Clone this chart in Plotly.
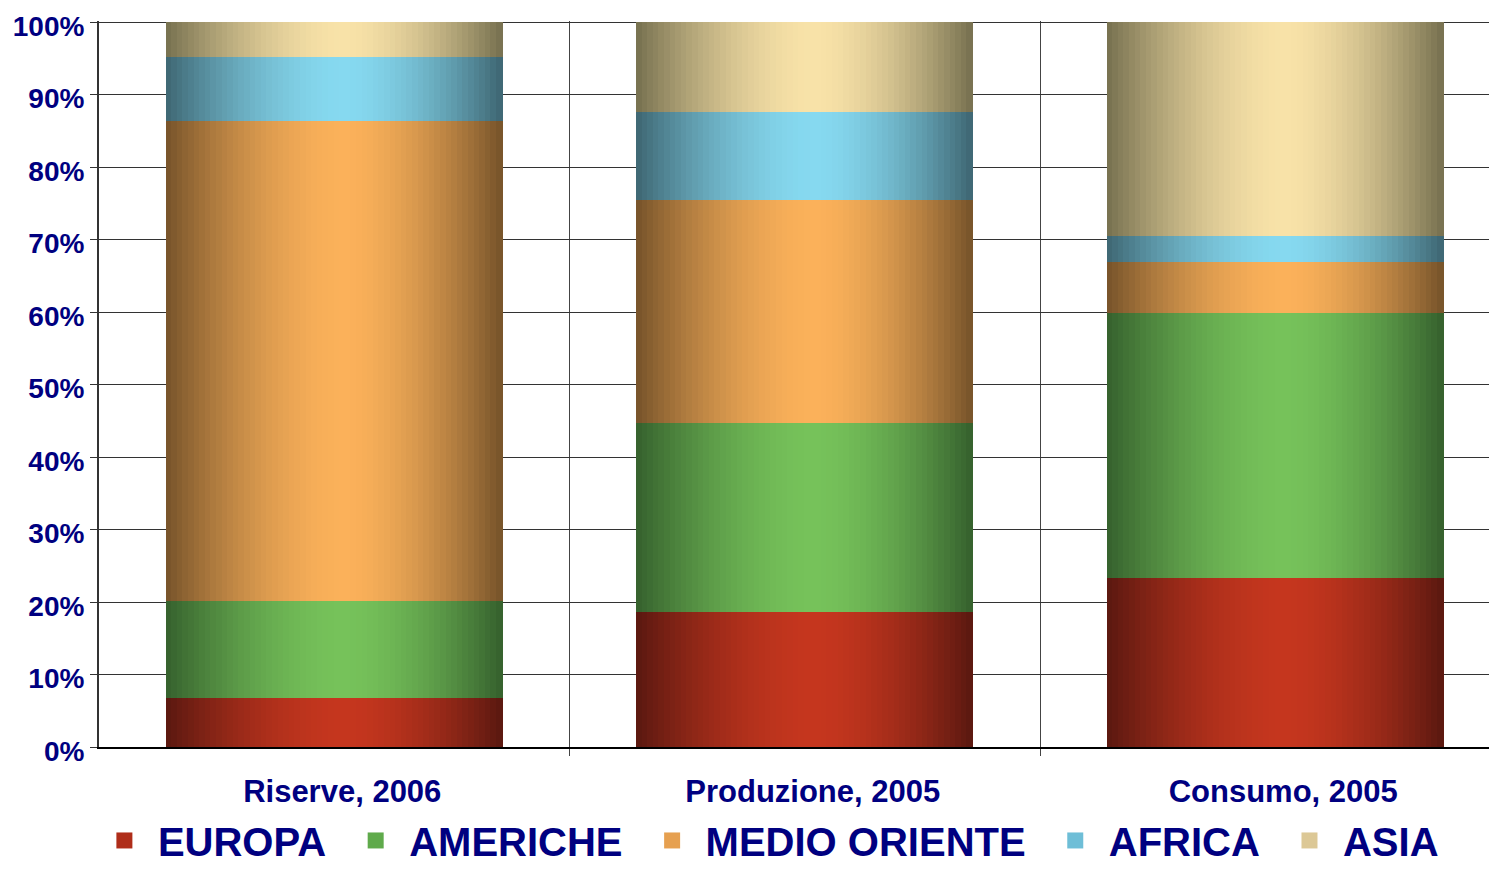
import numpy as np
import plotly.graph_objects as go

# ---- data ----
categories = ["Riserve, 2006", "Produzione, 2005", "Consumo, 2005"]
regions = ["EUROPA", "AMERICHE", "MEDIO ORIENTE", "AFRICA", "ASIA"]
europa = [6.8, 18.6, 23.3]
americhe = [13.4, 26.1, 36.6]
medio_oriente = [66.1, 30.7, 7.0]
africa = [8.9, 12.2, 3.6]
asia = [4.8, 12.4, 29.5]
y_tick_vals = [0, 10, 20, 30, 40, 50, 60, 70, 80, 90, 100]
y_tick_text = ["0%", "10%", "20%", "30%", "40%", "50%", "60%", "70%", "80%", "90%", "100%"]

series = [europa, americhe, medio_oriente, africa, asia]

# ---- styles ----
edge_rgb = [(90, 24, 16), (53, 96, 45), (118, 83, 42), (62, 102, 114), (118, 112, 79)]
peak_rgb = [(197, 54, 30), (118, 194, 90), (251, 177, 90), (134, 217, 240), (248, 226, 168)]
legend_rgb = [(175, 45, 25), (95, 170, 75), (230, 160, 80), (110, 190, 215), (220, 200, 150)]

NAVY = "#000080"
FONT = "Liberation Sans, Arial, sans-serif"
N = 60          # strips per bar to emulate the cylinder gradient
BAR_W = 0.714
PEAK = 0.53
PAD = "\u00a0"
W, H = 1489, 861          # page body has an 8px margin
L, T, B = 91, 13, 122
Y_TOP = 100.15
UNIT_PX = 470.5

s = BAR_W / N
ts = [(k + 0.5) / N for k in range(N)]


def mix(c0, c1, m):
    return "rgb(%d,%d,%d)" % tuple(round(a + (b - a) * m) for a, b in zip(c0, c1))


def shade(t):
    if t < PEAK:
        u = (PEAK - t) / PEAK
    else:
        u = (t - PEAK) / (1 - PEAK)
    return 1 - u ** 1.7


xs, idx = [], []
for i in range(len(categories)):
    for k, t in enumerate(ts):
        xs.append(i - BAR_W / 2 + (k + 0.5) * s)
        idx.append((i, t))

fig = go.Figure()
for r, (name, vals) in enumerate(zip(regions, series)):
    ys = [vals[i] for i, t in idx]
    cols = [mix(edge_rgb[r], peak_rgb[r], shade(t)) for i, t in idx]
    fig.add_trace(go.Bar(
        x=xs, y=ys, width=s * 1.25, showlegend=False, name=name,
        marker=dict(color=cols, line=dict(width=0)),
        hovertemplate=name + ": %{y}%<extra></extra>",
    ))

for r, name in enumerate(regions):
    fig.add_trace(go.Scatter(
        x=[None], y=[None], name=name + (PAD if r < len(regions) - 1 else ""),
        mode="markers", showlegend=True,
        marker=dict(symbol="square", size=20, color="rgb(%d,%d,%d)" % legend_rgb[r],
                    line=dict(width=0)),
    ))

fig.update_layout(
    width=W, height=H,
    barmode="stack",
    plot_bgcolor="white", paper_bgcolor="white",
    margin=dict(l=L, r=0, t=T, b=B, autoexpand=False),
    font=dict(family=FONT, color=NAVY),
    legend=dict(
        orientation="h", traceorder="normal", itemsizing="trace",
        xref="container", yref="paper",
        x=0.510, xanchor="center", y=-0.1735, yanchor="bottom",
        font=dict(size=40, family=FONT, color=NAVY, weight="bold"),
        itemwidth=57,
    ),
    xaxis=dict(
        range=[-0.5, -0.5 + (W - L) / UNIT_PX], automargin=False,
        tickvals=list(range(len(categories))), ticktext=categories,
        tickfont=dict(size=31, family=FONT, color=NAVY, weight="bold"),
        ticks="", showgrid=False, zeroline=False,
        showline=True, linecolor="black", linewidth=1.5,
        ticklabelstandoff=16, ticklabelshift=8,
        minor=dict(tickvals=[0.5, 1.5], showgrid=True, gridcolor="#444",
                   gridwidth=1, ticks="outside", ticklen=7, tickcolor="#444"),
    ),
    yaxis=dict(
        range=[0, Y_TOP], automargin=False,
        tickvals=y_tick_vals, ticktext=y_tick_text,
        tickfont=dict(size=28, family=FONT, color=NAVY, weight="bold"),
        ticklabeloverflow="allow", ticklabelshift=4,
        ticks="outside", ticklen=7, tickcolor="#333",
        showgrid=True, gridcolor="#333", gridwidth=1.2,
        zeroline=False, showline=True, linecolor="#333", linewidth=2,
    ),
)

fig.write_html("out.html")
